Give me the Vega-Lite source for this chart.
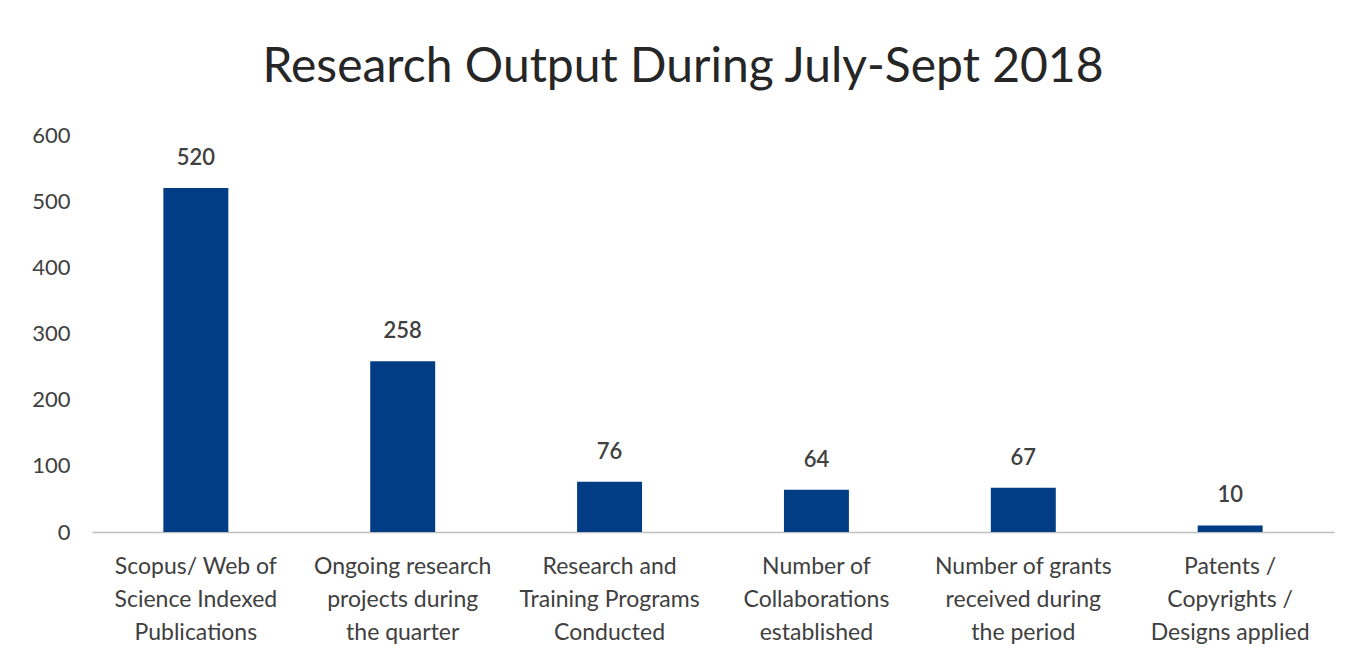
{
  "$schema": "https://vega.github.io/schema/vega-lite/v6.json",
  "autosize": {"type": "none"},
  "padding": {"left": 92, "top": 135, "right": 34, "bottom": 127},
  "width": 1242,
  "height": 397,
  "background": "white",
  "config": {"view": {"stroke": null}},
  "title": {
    "text": "Research Output During July-Sept 2018",
    "font": "Lato",
    "fontSize": 48,
    "fontWeight": "normal",
    "color": "#262626",
    "anchor": "middle",
    "dx": -30,
    "offset": 32
  },
  "data": {
    "values": [
      {"category": "Scopus/ Web of|Science Indexed|Publications", "value": 520},
      {"category": "Ongoing research|projects during|the quarter", "value": 258},
      {"category": "Research and|Training Programs|Conducted", "value": 76},
      {"category": "Number of|Collaborations|established", "value": 64},
      {"category": "Number of grants|received during|the period", "value": 67},
      {"category": "Patents /|Copyrights /|Designs applied", "value": 10}
    ]
  },
  "encoding": {
    "x": {
      "field": "category",
      "type": "nominal",
      "sort": null,
      "scale": {"paddingInner": 0.686, "paddingOuter": 0.345},
      "axis": {
        "title": null,
        "labelAngle": 0,
        "labelExpr": "split(datum.label, '|')",
        "labelFont": "Lato",
        "labelFontSize": 23,
        "labelColor": "#404040",
        "labelLineHeight": 33,
        "labelPadding": 23,
        "labelLimit": 300,
        "ticks": false,
        "domainColor": "#bfbfbf",
        "domainWidth": 1.5
      }
    },
    "y": {
      "field": "value",
      "type": "quantitative",
      "scale": {"domain": [0, 600], "nice": false},
      "axis": {
        "title": null,
        "values": [0, 100, 200, 300, 400, 500, 600],
        "grid": false,
        "domain": false,
        "ticks": false,
        "labelFont": "Lato",
        "labelFontSize": 22,
        "labelColor": "#404040",
        "labelPadding": 22
      }
    }
  },
  "layer": [
    {"mark": {"type": "bar", "color": "#003d85"}},
    {
      "mark": {
        "type": "text",
        "baseline": "bottom",
        "dy": -18,
        "font": "Lato",
        "fontSize": 22,
        "fontWeight": 600,
        "color": "#404040"
      },
      "encoding": {"text": {"field": "value", "type": "quantitative"}}
    }
  ]
}
